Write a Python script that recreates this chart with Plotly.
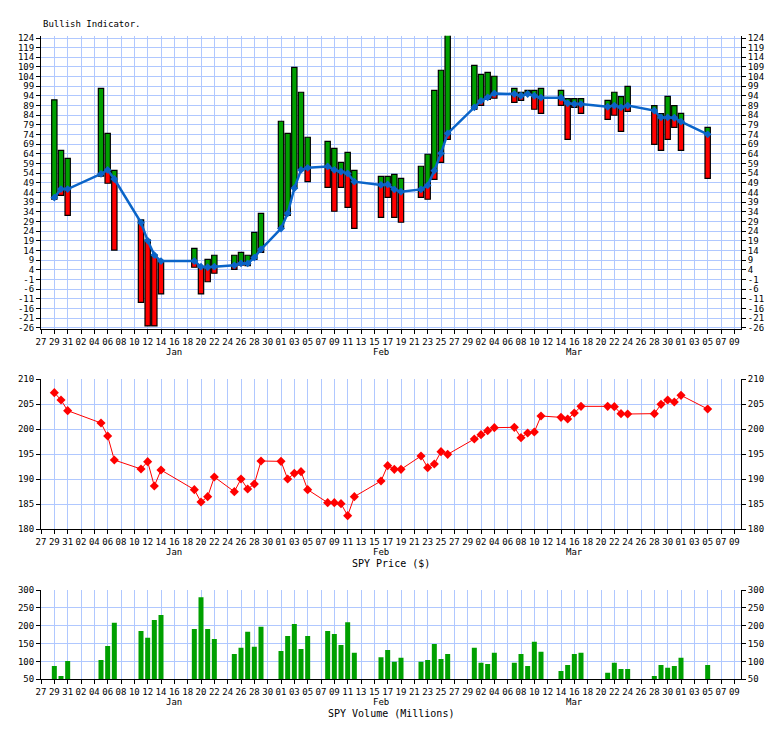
import plotly.graph_objects as go
import pandas as pd

# ---------------- data ----------------
dates = [
    "2015-12-29", "2015-12-30", "2015-12-31",
    "2016-01-05", "2016-01-06", "2016-01-07",
    "2016-01-11", "2016-01-12", "2016-01-13", "2016-01-14",
    "2016-01-19", "2016-01-20", "2016-01-21", "2016-01-22",
    "2016-01-25", "2016-01-26", "2016-01-27", "2016-01-28", "2016-01-29",
    "2016-02-01", "2016-02-02", "2016-02-03", "2016-02-04", "2016-02-05",
    "2016-02-08", "2016-02-09", "2016-02-10", "2016-02-11", "2016-02-12",
    "2016-02-16", "2016-02-17", "2016-02-18", "2016-02-19",
    "2016-02-22", "2016-02-23", "2016-02-24", "2016-02-25", "2016-02-26",
    "2016-03-01", "2016-03-02", "2016-03-03", "2016-03-04",
    "2016-03-07", "2016-03-08", "2016-03-09", "2016-03-10", "2016-03-11",
    "2016-03-14", "2016-03-15", "2016-03-16", "2016-03-17",
    "2016-03-21", "2016-03-22", "2016-03-23", "2016-03-24",
    "2016-03-28", "2016-03-29", "2016-03-30", "2016-03-31", "2016-04-01",
    "2016-04-05",
]

ind_low = [
    40.5, 42.5, 32.2,
    52.5, 48.8, 14.2,
    -12.9, -25.1, -25.1, -8.5,
    5.3, -8.5, -2.2, 2.2,
    4.2, 6.5, 6.1, 9.4, 13.0,
    25.4, 32.2, 46.2, 56.5, 49.6,
    46.7, 34.3, 46.7, 36.3, 25.4,
    31.1, 41.5, 31.1, 28.6,
    41.5, 40.5, 50.8, 59.6, 71.5,
    87.1, 89.1, 92.2, 92.8,
    90.7, 91.7, 94.3, 87.1, 85.0,
    89.1, 71.5, 88.1, 85.0,
    81.9, 84.0, 75.7, 86.0,
    68.9, 65.8, 71.5, 77.7, 65.8,
    51.3,
]

ind_high = [
    92.0, 65.8, 61.7,
    97.9, 74.6, 55.5,
    29.8, 19.4, 11.6, 8.2,
    15.1, 5.6, 9.4, 11.5,
    11.5, 13.0, 11.5, 23.4, 33.2,
    80.9, 74.6, 108.8, 95.9, 72.6,
    70.5, 66.9, 59.6, 64.8, 55.5,
    52.4, 52.4, 53.4, 51.3,
    57.6, 63.8, 96.9, 107.3, 126.4,
    109.8, 105.2, 106.2, 104.2,
    97.9, 95.9, 96.9, 96.9, 97.9,
    96.9, 92.6, 92.6, 92.6,
    91.7, 95.9, 93.6, 99.0,
    89.0, 84.8, 93.8, 89.0, 85.0,
    77.7,
]

ind_ma = [
    41.3, 45.8, 45.8,
    53.6, 55.7, 51.0,
    28.4, 19.1, 11.6, 8.5,
    8.5, 5.6, 5.3, 5.6,
    6.3, 7.3, 7.3, 10.3, 14.6,
    25.3, 33.2, 46.2, 55.7, 56.8,
    57.5, 55.7, 54.8, 53.9, 49.6,
    47.9, 48.2, 45.6, 44.4,
    45.6, 47.7, 55.3, 64.3, 74.6,
    88.1, 91.4, 93.3, 95.3,
    95.0, 94.1, 95.0, 94.1, 93.1,
    93.1, 90.2, 89.8, 89.8,
    88.4, 89.0, 88.1, 89.0,
    86.4, 82.9, 82.9, 82.7, 80.7,
    74.1,
]

price = [
    207.27, 205.8, 203.67,
    201.2, 198.6, 193.8,
    192.0, 193.47, 188.6, 191.8,
    187.87, 185.4, 186.47, 190.4,
    187.47, 190.0, 188.0, 189.0, 193.6,
    193.53, 190.0, 191.13, 191.47, 187.87,
    185.27, 185.27, 185.07, 182.67, 186.47,
    189.6, 192.67, 191.93, 191.93,
    194.6, 192.27, 193.0, 195.47, 194.93,
    198.0, 198.87, 199.67, 200.27,
    200.33, 198.27, 199.2, 199.4, 202.6,
    202.33, 202.0, 203.2, 204.53,
    204.53, 204.47, 203.07, 203.0,
    203.07, 204.93, 205.8, 205.4, 206.73,
    204.0,
]

volume = [
    87, 59, 101,
    104, 143, 208,
    185, 166, 216, 230,
    191, 280, 191, 163,
    121, 138, 183, 141, 197,
    129, 171, 205, 135, 171,
    185, 177, 146, 210, 124,
    112, 132, 99, 110,
    99, 104, 149, 107, 121,
    138, 96, 93, 124,
    96, 121, 87, 155, 127,
    73, 90, 121, 124,
    68, 96, 79, 79,
    59, 90, 82, 87, 110,
    90,
]

x_start, x_end = "2015-12-27", "2016-04-10"
x_tick_dates = pd.date_range("2015-12-27", "2016-04-09", freq="2D")
x_tick_vals = [d.strftime("%Y-%m-%d") for d in x_tick_dates]
x_tick_text = [d.strftime("%d") for d in x_tick_dates]

month_labels = ["Jan", "Feb", "Mar"]
month_dates = ["2016-01-16", "2016-02-16", "2016-03-16"]

ind_ticks = list(range(-26, 125, 5))
price_ticks = list(range(180, 211, 5))
vol_ticks = list(range(50, 301, 50))

# ---------------- styling ----------------
OFF = 8                      # page body margin
W, H = 784 - OFF, 729 - OFF
GREEN = "#00A000"
RED = "#FF0000"
BLUE = "#0A64C8"
GRID = "#B0C8FF"
FONT = "DejaVu Sans Mono"
DAY_MS = 86400000


def py(px):
    """page pixel (from top) -> paper y"""
    return (H - (px - OFF)) / H


green_base, green_len, red_base, red_len, out_len = [], [], [], [], []
for lo, hi, ma in zip(ind_low, ind_high, ind_ma):
    if hi > ma:
        b = max(lo, ma)
        green_base.append(b)
        green_len.append(hi - b)
    else:
        green_base.append(None)
        green_len.append(None)
    if lo < ma:
        red_base.append(lo)
        red_len.append(min(hi, ma) - lo)
    else:
        red_base.append(None)
        red_len.append(None)
    out_len.append(hi - lo)

fig = go.Figure()

fig.add_trace(go.Bar(x=dates, y=green_len, base=green_base, width=0.8 * DAY_MS,
                     marker=dict(color=GREEN, line=dict(width=0)),
                     xaxis="x", yaxis="y", hoverinfo="skip"))
fig.add_trace(go.Bar(x=dates, y=red_len, base=red_base, width=0.8 * DAY_MS,
                     marker=dict(color=RED, line=dict(width=0)),
                     xaxis="x", yaxis="y", hoverinfo="skip"))
fig.add_trace(go.Bar(x=dates, y=out_len, base=ind_low, width=0.8 * DAY_MS,
                     marker=dict(color="rgba(0,0,0,0)", line=dict(width=1.2, color="black")),
                     xaxis="x", yaxis="y", hoverinfo="skip"))
fig.add_trace(go.Scatter(x=dates, y=ind_ma, mode="lines+markers",
                         line=dict(color=BLUE, width=2.5),
                         marker=dict(symbol="diamond", size=6, color=BLUE),
                         xaxis="x", yaxis="y"))

fig.add_trace(go.Scatter(x=dates, y=price, mode="lines+markers",
                         line=dict(color=RED, width=1),
                         marker=dict(symbol="diamond", size=7, color=RED),
                         xaxis="x2", yaxis="y2"))

fig.add_trace(go.Bar(x=dates, y=volume, width=0.75 * DAY_MS,
                     marker=dict(color=GREEN, line=dict(width=0)),
                     xaxis="x3", yaxis="y3"))

# invisible traces so the right-hand mirror axes are drawn
fig.add_trace(go.Scatter(x=[dates[0]], y=[ind_ticks[0]], mode="markers",
                         marker=dict(opacity=0), xaxis="x", yaxis="y4", hoverinfo="skip"))
fig.add_trace(go.Scatter(x=[dates[0]], y=[price_ticks[0]], mode="markers",
                         marker=dict(opacity=0), xaxis="x2", yaxis="y5", hoverinfo="skip"))
fig.add_trace(go.Scatter(x=[dates[0]], y=[vol_ticks[0]], mode="markers",
                         marker=dict(opacity=0), xaxis="x3", yaxis="y6", hoverinfo="skip"))

tickfont = dict(family=FONT, size=9, color="black")

dom_top = [py(329.3), py(35.7)]
dom_mid = [py(529), py(379)]
dom_bot = [py(679.3), py(590)]


def xax(anchor):
    return dict(type="date", range=[x_start, x_end], domain=[0, 1], anchor=anchor,
                tickmode="array", tickvals=x_tick_vals, ticktext=x_tick_text,
                showgrid=True, gridcolor=GRID, gridwidth=1,
                ticks="outside", ticklen=4, tickcolor="black",
                showline=True, linecolor="black", linewidth=1,
                zeroline=False, tickfont=tickfont, tickangle=0, fixedrange=True)


def yax(domain, rng, ticks, anchor, side="left", overlay=None):
    d = dict(domain=domain, range=rng, tickmode="array", tickvals=ticks,
             ticktext=[str(t) for t in ticks], ticks="outside", ticklen=4,
             tickcolor="black", showline=True, linecolor="black", linewidth=1,
             zeroline=False, tickfont=tickfont, side=side, fixedrange=True,
             anchor=anchor)
    if overlay:
        d.update(overlaying=overlay, showgrid=False)
    else:
        d.update(showgrid=True, gridcolor=GRID, gridwidth=1)
    return d


ind_range = [-26.83, 125.19]
fig.update_layout(
    width=W, height=H,
    margin=dict(l=41 - OFF, r=43, t=0, b=0, autoexpand=False),
    paper_bgcolor="white", plot_bgcolor="white",
    showlegend=False, barmode="overlay",
    xaxis=xax("y"),
    xaxis2=xax("y2"),
    xaxis3=xax("y3"),
    yaxis=yax(dom_top, ind_range, ind_ticks, "x"),
    yaxis2=yax(dom_mid, [180, 210], price_ticks, "x2"),
    yaxis3=yax(dom_bot, [50, 300], vol_ticks, "x3"),
    yaxis4=yax(dom_top, ind_range, ind_ticks, "x", side="right", overlay="y"),
    yaxis5=yax(dom_mid, [180, 210], price_ticks, "x2", side="right", overlay="y2"),
    yaxis6=yax(dom_bot, [50, 300], vol_ticks, "x3", side="right", overlay="y3"),
)

annotations = [
    dict(text="Bullish Indicator.", x=0, xref="paper", xanchor="left",
         y=py(24), yref="paper", yanchor="middle", showarrow=False,
         font=dict(family=FONT, size=9, color="black")),
    dict(text="SPY Price ($)", x=0.5, xref="paper", xanchor="center",
         y=py(563), yref="paper", yanchor="middle", showarrow=False,
         font=dict(family=FONT, size=10, color="black")),
    dict(text="SPY Volume (Millions)", x=0.5, xref="paper", xanchor="center",
         y=py(713), yref="paper", yanchor="middle", showarrow=False,
         font=dict(family=FONT, size=10, color="black")),
]
for xa, ypx in (("x", 352), ("x2", 552), ("x3", 702)):
    for lab, md in zip(month_labels, month_dates):
        annotations.append(dict(text=lab, x=md, xref=xa, xanchor="center",
                                y=py(ypx), yref="paper", yanchor="middle",
                                showarrow=False,
                                font=dict(family=FONT, size=9, color="black")))
fig.update_layout(annotations=annotations)

fig.write_html("out.html")
